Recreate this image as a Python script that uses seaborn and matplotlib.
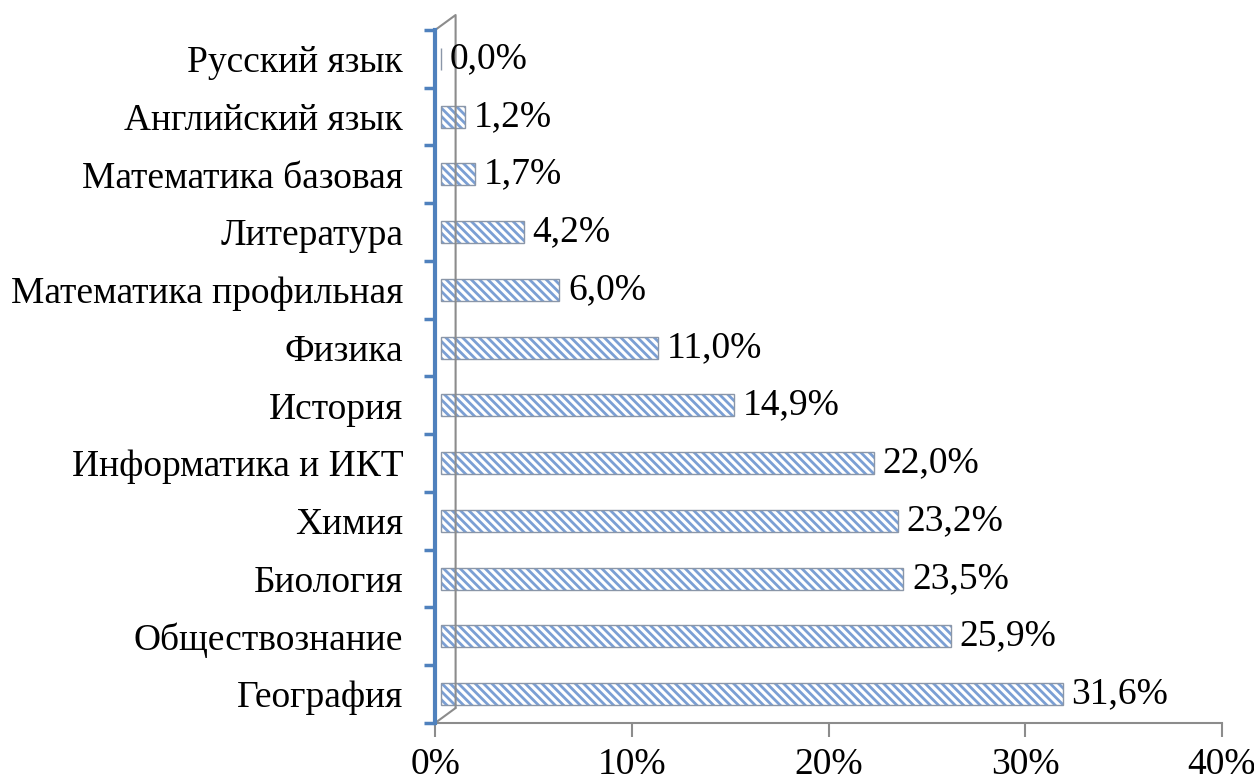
import numpy as np
import matplotlib
matplotlib.use("Agg")
import matplotlib.pyplot as plt
import matplotlib.transforms as mtransforms
import seaborn as sns
from matplotlib.lines import Line2D

# ===============================
# DATA
# ===============================
subjects = ["Русский язык", "Английский язык", "Математика базовая", "Литература",
            "Математика профильная", "Физика", "История", "Информатика и ИКТ",
            "Химия", "Биология", "Обществознание", "География"]
shares = [0.0, 1.2, 1.7, 4.2, 6.0, 11.0, 14.9, 22.0, 23.2, 23.5, 25.9, 31.6]
x_ticks = [0, 10, 20, 30, 40]

# ===============================
# STYLE
# ===============================
sns.set_style("white")
plt.rcParams["font.family"] = ["Liberation Serif", "DejaVu Serif"]
plt.rcParams["text.color"] = "black"
plt.rcParams["xtick.color"] = "black"
plt.rcParams["ytick.color"] = "black"
plt.rcParams["hatch.linewidth"] = 2.0
FS = 27

fig = plt.figure(figsize=(12.54, 7.81), dpi=100)
ax = fig.add_axes([0.347, 0.0743, 0.6275, 0.8873])

# small shift to mimic the 3D depth of the original chart
shift = mtransforms.ScaledTranslation(6 / 100, 0, fig.dpi_scale_trans)

sns.barplot(x=shares, y=subjects, orient="h", width=0.38, color="white",
            edgecolor="#7b9fd4", linewidth=0, ax=ax)
for p in ax.patches:
    p.set_hatch("\\\\\\\\")
sns.barplot(x=shares, y=subjects, orient="h", width=0.38, fill=False,
            edgecolor="#8a96a8", linewidth=1.0, ax=ax)
for p in ax.patches:
    p.set_transform(ax.transData + shift)

ax.set_xlim(0, 40)
ax.set_ylim(11.5, -0.5)
ax.set_xticks(x_ticks)
ax.set_xticklabels([f"{t}%" for t in x_ticks], fontsize=FS)
ax.tick_params(axis="x", bottom=True, direction="out", length=10, color="#8c8c8c",
               width=1.5, pad=8)
ax.tick_params(axis="y", which="major", left=True, length=0, pad=23, labelsize=FS)
ax.set_yticks(np.arange(-0.5, 12, 1), minor=True)
ax.tick_params(axis="y", which="minor", left=True, direction="out", length=8,
               color="#4f81bd", width=2.5)
ax.set_xlabel("")
ax.set_ylabel("")

for s in ["top", "right"]:
    ax.spines[s].set_visible(False)
ax.spines["left"].set_color("#4f81bd")
ax.spines["left"].set_linewidth(3)
ax.spines["left"].set_zorder(5)
ax.spines["bottom"].set_color("#8c8c8c")
ax.spines["bottom"].set_linewidth(1.5)

# back wall of the 3D frame
ax.add_line(Line2D([0, 0.026, 0.026], [1.0, 1.0216, 0.0216], transform=ax.transAxes,
                   color="#8c8c8c", lw=1.5, clip_on=False))
ax.add_line(Line2D([0, 0.026], [0.0, 0.0216], transform=ax.transAxes,
                   color="#8c8c8c", lw=1.5, clip_on=False))

# value labels
for i, v in enumerate(shares):
    ax.text(v + 0.75, i, f"{v:.1f}%".replace(".", ","), va="center", ha="left",
            fontsize=FS)

fig.savefig("out.png", dpi=100)
